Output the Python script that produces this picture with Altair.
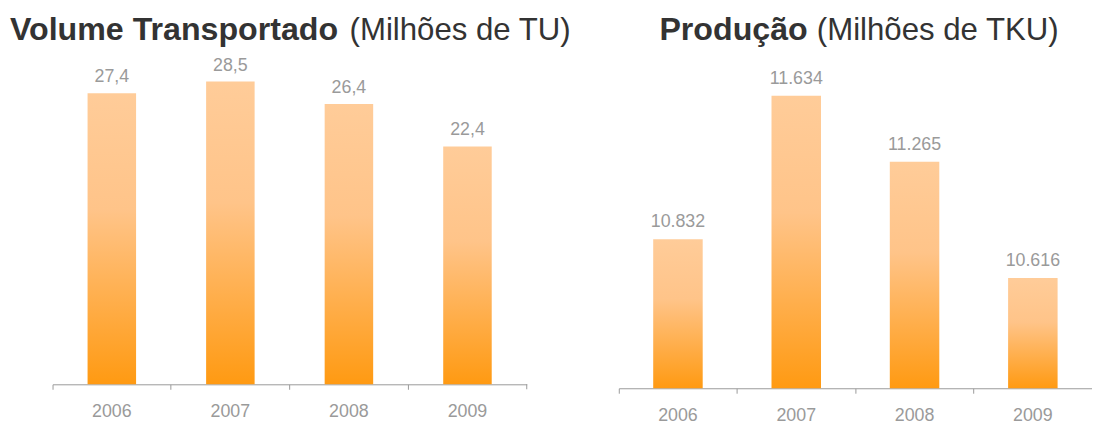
import altair as alt
import pandas as pd

years = ["2006", "2007", "2008", "2009"]
volume = [27.4, 28.5, 26.4, 22.4]
producao = [10832, 11634, 11265, 10616]

FONT = "Liberation Sans"
GREY = "#9a9a9a"
DARK = "#333333"

df_v = pd.DataFrame({
    "ano": years,
    "valor": volume,
    "rotulo": [f"{v:.1f}".replace(".", ",") for v in volume],
})
df_p = pd.DataFrame({
    "ano": years,
    "valor": producao,
    "rotulo": [f"{v:,}".replace(",", ".") for v in producao],
})

grad = alt.Gradient(
    gradient="linear",
    stops=[
        alt.GradientStop(color="#FFCC99", offset=0),
        alt.GradientStop(color="#FFC489", offset=0.4),
        alt.GradientStop(color="#FF9A12", offset=1),
    ],
    x1=1, x2=1, y1=0, y2=1,
)

xaxis = alt.Axis(
    title=None, labelAngle=0, labelFont=FONT, labelFontSize=18, labelColor=GREY,
    labelPadding=14, tickColor=GREY, tickSize=5, domainColor=GREY, bandPosition=0,
    grid=False,
)


def title_layer(bold, regular, xb, xr):
    tb = alt.Chart(pd.DataFrame({"t": [bold]})).mark_text(
        align="left", baseline="alphabetic", font=FONT, fontSize=32.5,
        fontWeight="bold", color=DARK,
    ).encode(x=alt.value(xb), y=alt.value(30), text="t:N")
    tr = alt.Chart(pd.DataFrame({"t": [regular]})).mark_text(
        align="left", baseline="alphabetic", font=FONT, fontSize=31.5,
        fontWeight="normal", color=DARK,
    ).encode(x=alt.value(xr), y=alt.value(30), text="t:N")
    return tb, tr


# Left panel
LW, LH = 479, 378
xl = alt.X("ano:N", axis=xaxis, scale=alt.Scale(paddingInner=0, paddingOuter=0))
yl = alt.Y("valor:Q", axis=None, scale=alt.Scale(domain=[0, 35.23]))
base_l = alt.Chart(df_v)
bars_l = base_l.mark_bar(size=49, color=grad).encode(x=xl, y=yl)
lab_l = base_l.mark_text(
    baseline="alphabetic", dy=-11, font=FONT, fontSize=18, color=GREY
).encode(x=xl, y=yl, text="rotulo:N")
tb_l, tr_l = title_layer("Volume Transportado", "(Milhões de TU)", -43, 300)
endtick = alt.Chart(pd.DataFrame({"a": [0]})).mark_rule(color=GREY).encode(
    x=alt.value(LW), y=alt.value(LH), y2=alt.value(LH + 5)
)
left = alt.layer(bars_l, lab_l, tb_l, tr_l, endtick).properties(width=LW, height=LH)

# Right panel
RW, RH = 478, 382
xr = alt.X("ano:N", axis=xaxis, scale=alt.Scale(paddingInner=0, paddingOuter=0))
yr = alt.Y("valor:Q", axis=None, scale=alt.Scale(domain=[10000, 12113], zero=False))
base_r = alt.Chart(df_p)
bars_r = base_r.mark_bar(size=50, color=grad).encode(x=xr, y=yr, y2=alt.datum(10000))
lab_r = base_r.mark_text(
    baseline="alphabetic", dy=-12, font=FONT, fontSize=18, color=GREY
).encode(x=xr, y=yr, text="rotulo:N")
tb_r, tr_r = title_layer("Produção", "(Milhões de TKU)", 41, 200)
right = alt.layer(bars_r, lab_r, tb_r, tr_r).properties(width=RW, height=RH)

chart = alt.hconcat(left, right, spacing=46).resolve_scale(
    x="independent", y="independent"
).properties(
    padding={"left": 2, "top": 0, "right": 0, "bottom": 0},
    background="white",
).configure_view(stroke=None)

chart.save("out.html", embed_options={"renderer": "svg", "actions": False})
